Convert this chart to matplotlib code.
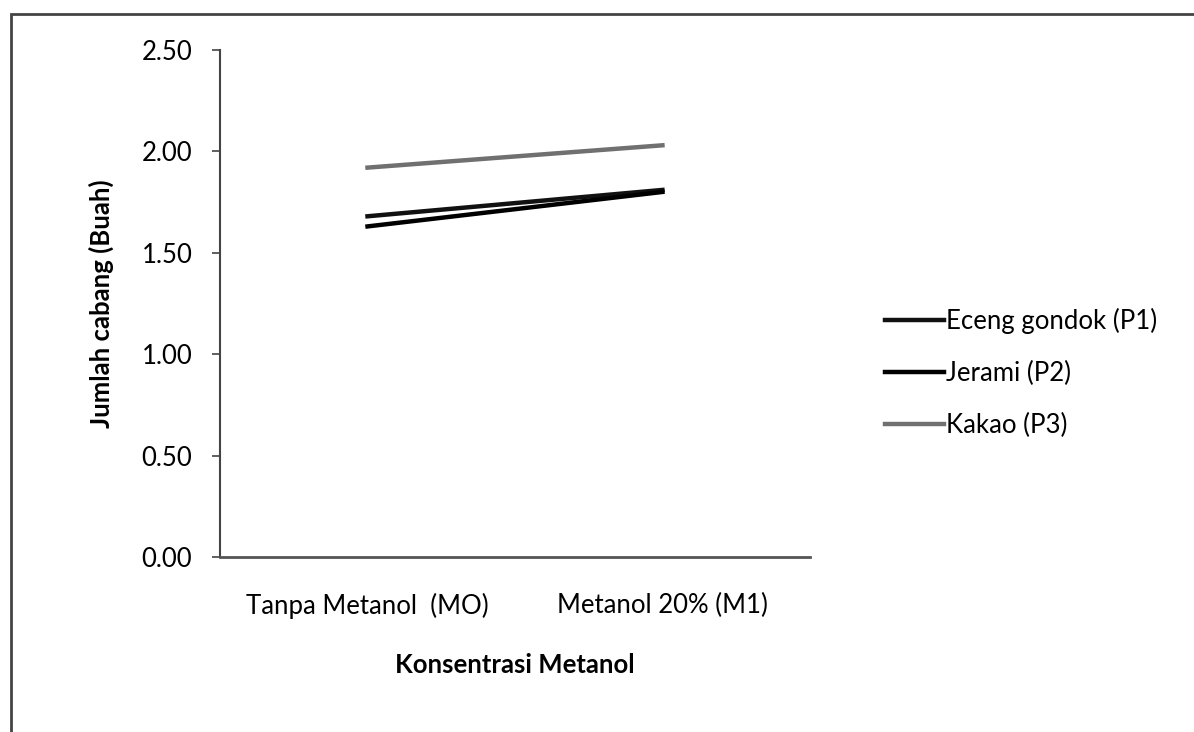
import matplotlib
matplotlib.use("Agg")
import matplotlib.pyplot as plt
from matplotlib.patches import Rectangle

plt.rcParams['font.family'] = ['Lato', 'DejaVu Sans']

categories = ["Tanpa Metanol  (MO)", "Metanol 20% (M1)"]
eceng_gondok = [1.68, 1.81]
jerami = [1.63, 1.80]
kakao = [1.92, 2.03]
series_names = ["Eceng gondok (P1)", "Jerami (P2)", "Kakao (P3)"]
yticks = [0.0, 0.5, 1.0, 1.5, 2.0, 2.5]

fs = 18.5

fig = plt.figure(figsize=(11.94, 7.32), dpi=100)
ax = fig.add_axes([0.1843, 0.2391, 0.494, 0.6926])

x = [0, 1]
ax.plot(x, eceng_gondok, color="#111111", lw=3.2, label=series_names[0])
ax.plot(x, jerami, color="#000000", lw=3.2, label=series_names[1])
ax.plot(x, kakao, color="#707070", lw=3.2, label=series_names[2])

ax.set_xlim(-0.5, 1.5)
ax.set_ylim(0, 2.5)
ax.set_xticks(x)
ax.set_xticklabels(categories)
ax.set_yticks(yticks)
ax.set_yticklabels([f"{v:.2f}" for v in yticks])
ax.tick_params(axis="x", length=0, pad=26, labelsize=fs)
ax.tick_params(axis="y", length=6, width=1.2, color="#444444", pad=14, labelsize=fs)
for s in ["top", "right"]:
    ax.spines[s].set_visible(False)
ax.spines["left"].set_color("#444444")
ax.spines["bottom"].set_color("#555555")
ax.spines["left"].set_linewidth(1.5)
ax.spines["bottom"].set_linewidth(2)

ax.set_xlabel("Konsentrasi Metanol", fontsize=fs, fontweight="bold", labelpad=24)
ax.set_ylabel("Jumlah cabang (Buah)", fontsize=fs, fontweight="bold", labelpad=20)

ax.legend(loc="center left", bbox_to_anchor=(1.127, 0.363), frameon=False,
          fontsize=fs, handlelength=2.3, handletextpad=0.1, labelspacing=1.05,
          borderpad=0, borderaxespad=0)

# outer chart frame
fig.patches.append(Rectangle((0.009, -0.05), 1.2, 1.031, transform=fig.transFigure,
                             fill=False, edgecolor="#444444", lw=2))

fig.savefig("out.png", dpi=100)
